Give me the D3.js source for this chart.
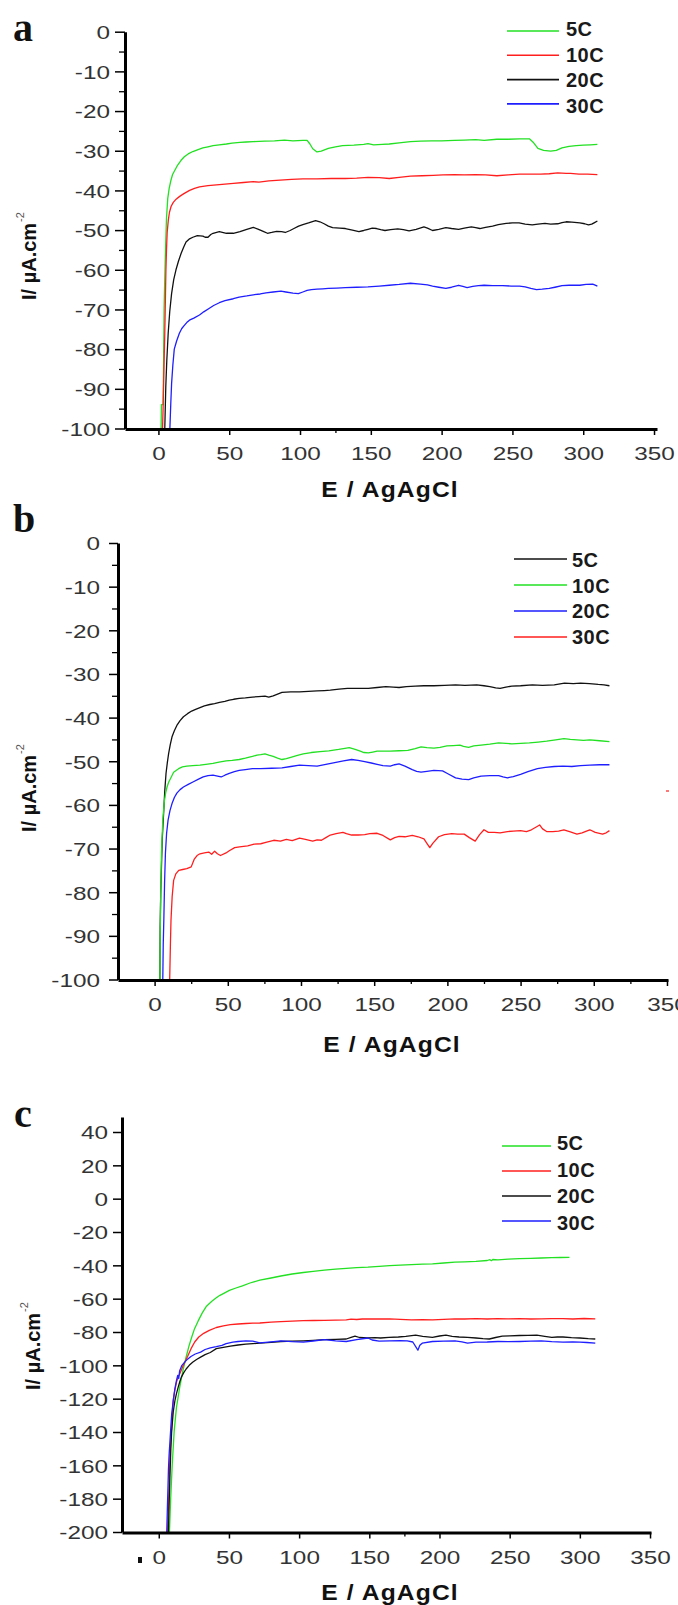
<!DOCTYPE html>
<html><head><meta charset="utf-8">
<script src="https://cdn.jsdelivr.net/npm/d3@7"></script>
<style>body{margin:0;background:#fff;}svg{display:block;}</style>
</head><body>
<svg id="chart" width="678" height="1605"></svg>
<script>
// ---------------- DATA ----------------
const seriesLabels = ["5C", "10C", "20C", "30C"];
const xTicks = [0, 50, 100, 150, 200, 250, 300, 350];
const yTicksAB = [0, -10, -20, -30, -40, -50, -60, -70, -80, -90, -100];
const yMinorAB = [-5, -15, -25, -35, -45, -55, -65, -75, -85, -95];
const yTicksC = [40, 20, 0, -20, -40, -60, -80, -100, -120, -140, -160, -180, -200];
const xTitle = "E / AgAgCl";
const yTitle = "I/ µA.cm";
const yTitleSup = "-2";

// Panel a
const a5C = [[1.9,-100],[2.1,-94],[3.3,-94],[3.6,-85],[4,-70],[4.5,-62],[5,-55],[5.7,-47],[6.6,-42],[7.6,-39.5],[8.8,-37.5],[10,-36],[11.8,-34.8],[13.6,-33.6],[16,-32.4],[18.3,-31.5],[21,-30.8],[24.3,-30.2],[28,-29.7],[31.4,-29.3],[35,-29],[38.6,-28.7],[43,-28.5],[48,-28.3],[52,-28.1],[57.6,-27.9],[62,-27.8],[67,-27.7],[75,-27.6],[82,-27.5],[89,-27.3],[95,-27.5],[102,-27.4],[105,-27.4],[107,-28.3],[109,-29.5],[112,-30.3],[115,-30.1],[120,-29.4],[125,-29],[130,-28.7],[138,-28.6],[145,-28.4],[148,-28.2],[152,-28.5],[158,-28.4],[163,-28.3],[170,-28],[178,-27.7],[185,-27.6],[193,-27.5],[200,-27.5],[209,-27.4],[216,-27.3],[224,-27.2],[230,-27.4],[239,-27.1],[247,-27.1],[255,-27],[262,-27],[265,-28],[268,-29.4],[272,-29.9],[277,-30.1],[281,-29.9],[285,-29.3],[290,-28.9],[295,-28.7],[300,-28.6],[305,-28.5],[310,-28.4]];
const a10C = [[2.9,-100],[3.3,-95],[3.6,-90],[4.1,-82],[4.5,-76],[5,-66],[5.3,-60],[5.7,-55],[6.2,-50.5],[7,-47.5],[7.8,-45.5],[9,-44],[10.5,-43],[12.5,-42.2],[15,-41.5],[18,-40.8],[22,-40],[25.5,-39.5],[29,-39.1],[35,-38.8],[41,-38.6],[47,-38.4],[53,-38.2],[60,-38],[67,-37.8],[71,-37.9],[78,-37.6],[86,-37.4],[94,-37.2],[102,-37.1],[112,-37.1],[122,-37],[132,-37],[140,-36.9],[148,-36.7],[156,-36.8],[163,-37],[170,-36.7],[178,-36.4],[186,-36.3],[194,-36.2],[201,-36.1],[209,-36],[216,-36.1],[224,-36],[231,-36.1],[239,-36.3],[247,-36.1],[255,-35.9],[262,-35.9],[270,-35.9],[276,-35.8],[282,-35.6],[288,-35.7],[291,-35.7],[297,-35.9],[303,-35.9],[310,-36]];
const a20C = [[4.5,-100],[5.2,-89.5],[5.9,-83],[6.9,-76],[8,-70.5],[9.3,-66],[10.8,-62.5],[12.4,-60],[14.2,-57.8],[16,-55.9],[17.8,-54.3],[19.5,-53],[22,-52.2],[24.3,-51.8],[27.5,-51.4],[31.4,-51.5],[33,-51.8],[35,-51.8],[37,-51.1],[38.6,-50.8],[43,-50.4],[48,-50.8],[52.9,-50.8],[57.6,-50.4],[62.4,-49.8],[67,-49.3],[70.7,-49.8],[74,-50.3],[77,-50.8],[80,-50.6],[83.5,-50.3],[87,-50.4],[89.6,-50.6],[93,-50.1],[95.7,-49.6],[99,-49],[102,-48.6],[106,-48.2],[111,-47.6],[114,-47.9],[117,-48.4],[120,-49],[123,-49.4],[128,-49.5],[132,-49.6],[137,-50],[141.6,-50.4],[145,-50.1],[148,-49.8],[151,-49.5],[154,-49.6],[157,-49.9],[160,-50.1],[164,-49.9],[169,-49.7],[173,-49.9],[177,-50.2],[182,-49.8],[187.5,-49.2],[190,-49.5],[193.6,-50.1],[198,-49.8],[203,-49.4],[207,-49.6],[212,-49.8],[216,-49.5],[221,-49.2],[224,-49.4],[227,-49.6],[231,-49.3],[236,-49],[240,-48.6],[245.6,-48.3],[250,-48.2],[254.7,-48.2],[259,-48.5],[264,-48.7],[268,-48.5],[273,-48.3],[277,-48.5],[282,-48.4],[285,-48.1],[288,-47.9],[292,-48],[297.6,-48.2],[301,-48.4],[303.7,-48.7],[306,-48.5],[308,-48.1],[310,-47.7]];
const a30C = [[8.1,-100],[8.7,-94],[9.3,-88.7],[10.2,-84],[11.2,-80],[12.8,-78],[14.8,-76],[16.5,-74.8],[18.3,-74],[20,-73.3],[21.9,-72.7],[25,-72.2],[29,-71.4],[32,-70.6],[36,-69.7],[39,-69],[43,-68.3],[47,-67.8],[52.9,-67.3],[57,-66.9],[62.4,-66.6],[67,-66.3],[71.9,-66.1],[76,-65.8],[81,-65.6],[86.5,-65.4],[90,-65.6],[95,-65.9],[98.8,-66],[102,-65.6],[105,-65.2],[108,-65],[112,-64.9],[116,-64.8],[120,-64.7],[126,-64.6],[132,-64.5],[140,-64.4],[148,-64.3],[156,-64.1],[163,-63.9],[170,-63.7],[178,-63.4],[185,-63.6],[190,-63.8],[193.6,-64.1],[198,-64.4],[203,-64.7],[207,-64.4],[212,-63.9],[215,-64.2],[218,-64.5],[222,-64.2],[226,-64],[230,-63.9],[236,-64],[243,-64],[249,-64.1],[255,-64.1],[259,-64.3],[263,-64.7],[267,-65],[271,-64.9],[276,-64.7],[280,-64.4],[285,-64],[290,-63.9],[297.6,-63.9],[302,-63.7],[306.7,-63.6],[308,-63.8],[310,-64.1]];

// Panel b
const b5C = [[3.6,-100],[3.8,-88],[4.2,-80],[5.2,-68],[6.3,-61],[7,-56.5],[7.8,-52.8],[8.7,-50.3],[9.6,-48.2],[10.7,-46.2],[11.9,-44.4],[13.5,-43],[15.2,-41.8],[17.4,-40.7],[19.7,-39.8],[22.5,-39.1],[25.3,-38.5],[28,-38.1],[31,-37.7],[34,-37.3],[37.7,-37],[41,-36.8],[44.4,-36.5],[48,-36.3],[51,-36],[54,-35.8],[57.8,-35.6],[62,-35.5],[66.8,-35.3],[71,-35.2],[75.4,-35.1],[78,-35.3],[81,-35],[84,-34.6],[87,-34.2],[93,-34.1],[99,-34.1],[105,-34],[111,-33.9],[116,-33.8],[120,-33.7],[126,-33.5],[131.7,-33.3],[138,-33.3],[146,-33.3],[152,-33.1],[158,-32.9],[163,-33],[167,-33.1],[172,-32.9],[178,-32.8],[184,-32.7],[190.8,-32.7],[198,-32.6],[205.6,-32.5],[212,-32.6],[220,-32.5],[225,-32.7],[229,-32.9],[233,-33.2],[236,-33.3],[240,-33],[244,-32.8],[250,-32.7],[258,-32.5],[265,-32.6],[273,-32.5],[280,-32.1],[286,-32.2],[291,-32.1],[297,-32.2],[303,-32.4],[307,-32.5],[310.7,-32.7]];
const b10C = [[3.6,-100],[3.9,-88],[4.2,-80],[4.7,-71],[5.6,-63.5],[6.7,-59],[7.6,-57.2],[8.5,-55.9],[9.6,-54.8],[10.8,-54],[13,-52.5],[16.4,-51.7],[19,-51.3],[22,-51.1],[26,-51],[31,-50.9],[35,-50.7],[39.9,-50.5],[44,-50.2],[48.9,-49.9],[53,-49.8],[57.8,-49.6],[62,-49.3],[66.8,-48.9],[70,-48.6],[72.5,-48.5],[75.4,-48.3],[78,-48.6],[81,-48.9],[84,-49.3],[87,-49.6],[90,-49.4],[93,-49.1],[97,-48.7],[101.5,-48.3],[107,-48],[113,-47.8],[119,-47.6],[125.7,-47.3],[129,-47.1],[133,-46.9],[137,-47.3],[140.5,-47.7],[143,-48],[146,-48.1],[149,-47.9],[152,-47.7],[156,-47.7],[161,-47.7],[167,-47.6],[173,-47.5],[178,-47.1],[182,-46.7],[186,-46.9],[190.8,-47],[195,-46.8],[199.7,-46.5],[204,-46.4],[208.6,-46.3],[211,-46.6],[214.5,-46.8],[218,-46.5],[223,-46.3],[229,-46.1],[235,-45.8],[240,-45.9],[244,-46],[250,-45.9],[256,-45.8],[262,-45.6],[267.8,-45.4],[274,-45.1],[279.6,-44.8],[284,-45],[288.5,-45.1],[293,-45.2],[297.3,-45.1],[304,-45.3],[310.7,-45.5]];
const b20C = [[5.6,-100],[5.9,-92],[6.3,-86.4],[6.8,-78],[7.4,-71],[8.2,-66.5],[9.2,-63.5],[10.5,-61.3],[11.9,-59.7],[13.5,-58.3],[15.2,-57.3],[17.4,-56.5],[19.7,-55.9],[23,-55.3],[26.5,-54.7],[30,-54.1],[33.2,-53.6],[36.5,-53.3],[39.9,-53.2],[43,-53.4],[45.5,-53.6],[48,-53.2],[51,-52.8],[54.5,-52.4],[57.8,-52.1],[62,-51.9],[66.8,-51.7],[72.5,-51.7],[80,-51.6],[87,-51.5],[93,-51.2],[99,-50.9],[105,-51],[111,-51.1],[117,-50.7],[123,-50.3],[129,-49.9],[134.6,-49.6],[139,-49.8],[143.5,-50.1],[148,-50.4],[152,-50.7],[156,-51],[161,-51.1],[164,-50.8],[167,-50.6],[171,-51.1],[176,-51.9],[179,-52.3],[182,-52.5],[186,-52.3],[190.8,-52.1],[196.7,-52.2],[200,-52.8],[205.6,-53.8],[210,-54.1],[214.5,-54.2],[218,-53.8],[223,-53.4],[229,-53.3],[235,-53.3],[238,-53.6],[241,-53.8],[245,-53.5],[250,-53],[255,-52.4],[261.5,-51.7],[267,-51.4],[273,-51.2],[279,-51.1],[285,-51.2],[291,-51],[297.3,-50.9],[304,-50.8],[310.7,-50.8]];
const b30C = [[10.3,-100],[10.8,-92],[11.2,-86.4],[12,-81],[13,-77.3],[14.5,-75.8],[16.5,-75],[19.2,-74.8],[22,-74.6],[25,-74.2],[27,-72.5],[29,-71.6],[31,-71.2],[34,-71],[37,-70.8],[39,-71.3],[41,-70.6],[42.9,-71.2],[45,-71.6],[48.8,-71],[51,-70.5],[54.7,-69.8],[58,-69.6],[63.6,-69.4],[68,-69],[72.5,-68.9],[76,-68.6],[81.4,-68.1],[86,-68.3],[90,-67.9],[94,-68.2],[99,-67.6],[103,-67.9],[108,-68.3],[111,-68],[114,-68.1],[117,-67.5],[120,-66.9],[124,-66.6],[128.7,-66.3],[131,-66.6],[134.6,-66.9],[139,-66.9],[143.5,-66.8],[147,-66.6],[152,-66.5],[156,-67],[161,-68],[164,-67.5],[167,-67.2],[171,-67.3],[176,-67],[180,-67.3],[184,-67.8],[186,-68.8],[188,-69.8],[190,-68.8],[194,-67.3],[198,-66.8],[203,-66.6],[207,-66.7],[211.5,-66.7],[215,-67.5],[219,-68.3],[222,-66.8],[225,-65.7],[228,-66.3],[232,-66.3],[236,-66.4],[241,-66.1],[245,-66],[250,-65.9],[254,-66.1],[257.4,-65.7],[261,-65],[263,-64.6],[265,-65.5],[267.8,-66.1],[272,-66.1],[276,-66],[279.6,-65.7],[284,-66.2],[288.5,-66.7],[292,-66.4],[295,-66],[297.3,-65.7],[301,-66.3],[306,-66.7],[308.5,-66.4],[310.7,-65.9]];

// Panel c
const c5C = [[7.6,-200],[8.5,-179.5],[9.6,-159.4],[11,-139.3],[12.6,-125.3],[14.9,-113.2],[17.2,-103.2],[19.5,-95],[21.5,-88.5],[23.5,-83],[25.5,-78],[28,-73.5],[31,-68.5],[34,-64.5],[37.8,-61.5],[41,-59.5],[43.6,-58],[47,-56.5],[50.3,-55],[55,-53.6],[59.6,-52.3],[65,-50.6],[72,-48.9],[80,-47.6],[87,-46.4],[95,-45.2],[103,-44.3],[110,-43.6],[118,-42.9],[126,-42.3],[133.6,-41.8],[141,-41.4],[149,-41.1],[157,-40.6],[164.5,-40.2],[172,-39.9],[180,-39.6],[188,-39.3],[195,-39.1],[203,-38.6],[211,-38.1],[218,-37.9],[226,-37.6],[234,-37.1],[236,-36.6],[237,-37.2],[238,-36.5],[241.6,-36.7],[249,-36.3],[257,-36],[265,-35.8],[272.5,-35.6],[280,-35.4],[286,-35.3],[292.6,-35.2]];
const c10C = [[6.2,-200],[6.6,-190],[6.9,-185.5],[7.5,-168],[8,-153.4],[8.6,-145],[9.2,-137.3],[9.8,-128],[10.3,-121.2],[11.4,-115],[12.6,-110.2],[13.7,-107],[14.9,-105.2],[17.2,-100.5],[20.6,-94.5],[23,-90],[25.6,-86],[28.5,-83],[32,-80.8],[36,-79],[41,-77.3],[46,-76.3],[51,-75.6],[56.5,-75.2],[62,-74.9],[67,-74.7],[72,-74.6],[80,-74.1],[87,-73.8],[95,-73.5],[103,-73.2],[110,-73.1],[118,-73],[126,-72.9],[133.6,-72.7],[137,-72.3],[141,-72.5],[145,-72.2],[149,-72.1],[157,-72.2],[164.5,-72.1],[172,-72.4],[180,-72.7],[188,-72.6],[195,-72.7],[203,-72.4],[211,-72.1],[218,-72.2],[226,-72],[234,-72.2],[241.6,-72],[249,-72.1],[257,-72],[265,-72.2],[272.5,-72.1],[280,-72],[288,-72],[295,-72.2],[303,-71.9],[311,-72.1]];
const c20C = [[6.9,-200],[7.3,-185],[8,-165.4],[8.6,-150],[9.2,-139.3],[10.3,-128],[11.5,-121.2],[12.6,-117],[13.8,-113.2],[14.9,-110],[16,-107.2],[17.7,-104.5],[19.5,-102.2],[21.7,-100],[24.1,-98.2],[26.9,-96.5],[29.8,-95.1],[33,-93.6],[36.7,-92.3],[41,-90],[46,-89.2],[51,-88.5],[56.5,-87.8],[62,-87.3],[67,-87],[72,-86.7],[80,-86.2],[87,-85.7],[95,-85.5],[103,-85.3],[110,-85],[118,-84.6],[126,-84.4],[133.6,-84.2],[137,-83.2],[139.8,-82.5],[143,-83.3],[149,-83.6],[154,-83.4],[158,-83.6],[164,-83.2],[170.7,-83],[176,-82.6],[183,-81.9],[188,-82.6],[195,-83.2],[200,-82.4],[204.6,-81.9],[209,-82.6],[214,-83],[220,-83.2],[226,-83.6],[231,-84],[235.5,-84.2],[240,-83.3],[244.7,-82.5],[250,-82.3],[257,-82.1],[263,-82],[269.4,-81.9],[275,-82.6],[280,-83.2],[284,-83],[288,-83],[294,-83.4],[300,-83.6],[306,-84],[311,-84.2]];
const c30C = [[5.7,-200],[6,-190],[6.2,-183.5],[6.6,-172],[6.9,-162.4],[7.4,-153],[8,-145.3],[8.6,-137],[9.2,-129.3],[9.8,-125],[10.3,-121.2],[11.5,-114],[12.6,-109.2],[13.5,-106],[14.2,-108],[14.9,-103.2],[16.5,-100],[18.3,-98.2],[20.5,-96.3],[22.9,-94.7],[26,-93.2],[29.8,-92.1],[33,-90.5],[36.7,-89.5],[41,-88.8],[45,-88],[48,-87],[52.8,-86.1],[56.5,-85.7],[62,-85.3],[67,-85.5],[72,-86.5],[80,-85.9],[87,-85.3],[95,-85.8],[103,-86.1],[110,-85.4],[118,-84.6],[126,-85.3],[133.6,-85.7],[141,-84.6],[149,-83.6],[152,-84.8],[157,-85.5],[164.5,-85.3],[172,-85.2],[177,-85.3],[181,-86],[184.6,-90.9],[186,-88],[187.7,-86.7],[195,-85.7],[203,-85.5],[211,-85.3],[216,-85.9],[220,-86.7],[226,-86.1],[234,-86],[241.6,-85.7],[249,-85.8],[257,-85.7],[265,-85.5],[272.5,-85.3],[280,-85.8],[288,-86.1],[295,-86],[300,-86.1],[305,-86.3],[311,-86.7]];

// ---------------- STYLE / LAYOUT ----------------
const GREEN = "#22e022", RED = "#ff1e1e", BLACK = "#111111", BLUE = "#1e1eff";
const SANS = "'Liberation Sans', Arial, sans-serif";
const SERIF = "'Liberation Serif', 'Times New Roman', serif";
const TICK_FS = 19, TICK_SX = 1.28;

const panels = [
  { label: "a", labelX: 13, labelY: 41,
    series: [a5C, a10C, a20C, a30C], colors: [GREEN, RED, BLACK, BLUE],
    xDomain: [-23.6, 352.1], xRange: [125, 657], xMinor: [125],
    yDomain: [-100, 0], yRange: [428.5, 31.7], yTicks: yTicksAB, yMinor: yMinorAB,
    yTickLen: 10, yLabelGap: 15,
    xTitleX: 390, xTitleY: 497, yTitleX: 36, yTitleY: 300,
    leg: { x0: 507, x1: 559, tx: 566, ly: 31, lstep: 24.3, ty: 36, tstep: 25.7 } },
  { label: "b", labelX: 13, labelY: 532,
    series: [b5C, b10C, b20C, b30C], colors: [BLACK, GREEN, BLUE, RED],
    xDomain: [-25, 350.7], xRange: [118, 668], xMinor: [25, 75, 125, 175, 225, 275, 325],
    yDomain: [-100, 0], yRange: [979.5, 543], yTicks: yTicksAB, yMinor: yMinorAB,
    yTickLen: 9, yLabelGap: 18,
    xTitleX: 392, xTitleY: 1052, yTitleX: 36, yTitleY: 832,
    leg: { x0: 514, x1: 567, tx: 572, ly: 559, lstep: 26, ty: 567, tstep: 25.7 } },
  { label: "c", labelX: 14, labelY: 1127,
    series: [c5C, c10C, c20C, c30C], colors: [GREEN, RED, BLACK, BLUE],
    xDomain: [-26.2, 350.7], xRange: [122, 651], xMinor: [175],
    yDomain: [-200, 49], yRange: [1532, 1117], yTicks: yTicksC, yMinor: [],
    yTickLen: 9, yLabelGap: 14,
    xTitleX: 390, xTitleY: 1600, yTitleX: 40, yTitleY: 1390,
    leg: { x0: 502, x1: 551, tx: 557, ly: 1146, lstep: 25, ty: 1150, tstep: 26.7 } }
];

const svg = d3.select("#chart");

function drawPanel(P) {
  const x = d3.scaleLinear().domain(P.xDomain).range(P.xRange);
  const y = d3.scaleLinear().domain(P.yDomain).range(P.yRange);
  const g = svg.append("g");
  const clipId = "clip-" + P.label;
  svg.append("clipPath").attr("id", clipId).append("rect")
    .attr("x", P.xRange[0]).attr("y", P.yRange[1])
    .attr("width", P.xRange[1] - P.xRange[0]).attr("height", P.yRange[0] - P.yRange[1]);

  // curves
  const line = d3.line().x(d => x(d[0])).y(d => y(d[1]));
  P.series.forEach((s, i) => {
    g.append("path").datum(s).attr("d", line)
      .attr("fill", "none").attr("stroke", P.colors[i])
      .attr("stroke-width", 1.3).attr("stroke-linejoin", "round")
      .attr("clip-path", `url(#${clipId})`);
  });

  const xAxisY = P.yRange[0] + 0.5;
  const yAxisX = P.xRange[0];

  // y axis minor
  if (P.yMinor.length) {
    const gm = g.append("g").attr("transform", `translate(${yAxisX},0)`)
      .call(d3.axisLeft(y).tickValues(P.yMinor).tickSize(6).tickSizeOuter(0).tickFormat(""));
    gm.select(".domain").remove();
    gm.selectAll(".tick line").attr("stroke", "#000").attr("stroke-width", 1.3);
  }
  // y axis major
  const gy = g.append("g").attr("transform", `translate(${yAxisX},0)`)
    .call(d3.axisLeft(y).tickValues(P.yTicks).tickSize(P.yTickLen).tickSizeOuter(0).tickFormat(d => String(d)));
  gy.select(".domain").attr("stroke", "#000").attr("stroke-width", 3);
  gy.selectAll(".tick line").attr("stroke", "#000").attr("stroke-width", 1.5);
  gy.selectAll(".tick text")
    .attr("x", 0).attr("y", 0).attr("dy", "0.36em")
    .attr("transform", `translate(${-P.yLabelGap},0) scale(${TICK_SX},1)`)
    .attr("text-anchor", "end")
    .attr("font-family", SANS).attr("font-size", TICK_FS).attr("fill", "#333");
  gy.attr("font-family", null).attr("font-size", null);

  // x axis minor
  if (P.xMinor.length) {
    const gmx = g.append("g").attr("transform", `translate(0,${xAxisY})`)
      .call(d3.axisBottom(x).tickValues(P.xMinor).tickSize(4).tickSizeOuter(0).tickFormat(""));
    gmx.select(".domain").remove();
    gmx.selectAll(".tick line").attr("stroke", "#000").attr("stroke-width", 1.3);
  }
  // x axis major
  const gx = g.append("g").attr("transform", `translate(0,${xAxisY})`)
    .call(d3.axisBottom(x).tickValues(xTicks).tickSize(6).tickSizeOuter(0).tickFormat(d => String(d)));
  gx.select(".domain").attr("stroke", "#000").attr("stroke-width", 3.2);
  gx.selectAll(".tick line").attr("stroke", "#000").attr("stroke-width", 1.5);
  gx.selectAll(".tick text")
    .attr("x", 0).attr("y", 0).attr("dy", null)
    .attr("transform", `translate(0,31) scale(${TICK_SX},1)`)
    .attr("text-anchor", "middle")
    .attr("font-family", SANS).attr("font-size", TICK_FS).attr("fill", "#333");
  gx.attr("font-family", null).attr("font-size", null);

  // x title
  g.append("text").text(xTitle)
    .attr("transform", `translate(${P.xTitleX},${P.xTitleY}) scale(1.12,1)`)
    .attr("text-anchor", "middle").attr("font-family", SANS).attr("font-weight", "bold")
    .attr("font-size", 22).attr("letter-spacing", 1).attr("fill", "#111");

  // y title
  const yt = g.append("text")
    .attr("transform", `translate(${P.yTitleX},${P.yTitleY}) rotate(-90)`)
    .attr("text-anchor", "start").attr("font-family", SANS)
    .attr("font-size", 20).attr("fill", "#111");
  yt.append("tspan").attr("font-weight", "bold").text(yTitle);
  yt.append("tspan").attr("dy", -12).attr("dx", 1).attr("font-size", 11).attr("fill", "#555").text(yTitleSup);

  // panel label
  g.append("text").text(P.label).attr("x", P.labelX).attr("y", P.labelY)
    .attr("font-family", SERIF).attr("font-weight", "bold").attr("font-size", 40).attr("fill", "#111");

  // legend
  const L = P.leg;
  seriesLabels.forEach((lab, i) => {
    g.append("line").attr("x1", L.x0).attr("x2", L.x1)
      .attr("y1", L.ly + i * L.lstep).attr("y2", L.ly + i * L.lstep)
      .attr("stroke", P.colors[i]).attr("stroke-width", 1.6);
    g.append("text").text(lab).attr("x", L.tx).attr("y", L.ty + i * L.tstep)
      .attr("font-family", SANS).attr("font-weight", "bold").attr("font-size", 20)
      .attr("letter-spacing", 0.5).attr("fill", "#1a1a1a");
  });
}

panels.forEach(drawPanel);

// small stray marks present in the original figure
svg.append("line").attr("x1", 666).attr("x2", 669).attr("y1", 791).attr("y2", 791)
  .attr("stroke", RED).attr("stroke-width", 1.2);
svg.append("rect").attr("x", 138).attr("y", 1557).attr("width", 4).attr("height", 6).attr("fill", "#111");
</script>
</body></html>
